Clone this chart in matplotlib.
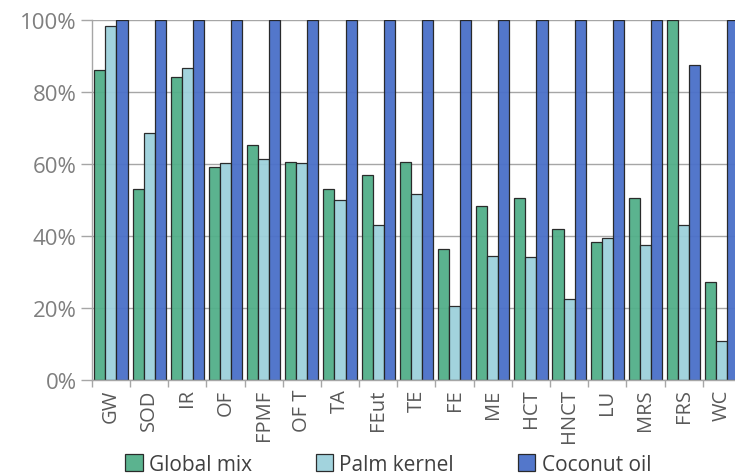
import numpy as np
import matplotlib
matplotlib.use("Agg")
import matplotlib.pyplot as plt
from matplotlib.ticker import PercentFormatter, FixedLocator

categories = ["GW", "SOD", "IR", "OF", "FPMF", "OF T", "TA", "FEut", "TE", "FE",
              "ME", "HCT", "HNCT", "LU", "MRS", "FRS", "WC"]
global_mix = [86.1, 53.0, 84.2, 59.2, 65.2, 60.5, 53.0, 57.0, 60.5, 36.5,
              48.4, 50.5, 42.1, 38.3, 50.5, 100.0, 27.2]
palm_kernel = [98.3, 68.5, 86.6, 60.3, 61.5, 60.3, 50.0, 43.1, 51.8, 20.6,
               34.5, 34.1, 22.4, 39.5, 37.5, 43.2, 10.8]
coconut_oil = [100, 100, 100, 100, 100, 100, 100, 100, 100, 100,
               100, 100, 100, 100, 100, 87.4, 100]
series_names = ["Global mix", "Palm kernel", "Coconut oil"]
colors = ["#52AF89", "#9DD1DC", "#4A70C9"]

plt.rcParams['font.family'] = ['Open Sans', 'DejaVu Sans']

fig = plt.figure(figsize=(7.35, 4.77), dpi=100)
# the axis runs slightly past the right edge, like in the source picture
ax = fig.add_axes([0.125, 0.201, 0.883, 0.755])

x = np.arange(len(categories))
w = 0.29
for i, (vals, name, c) in enumerate(zip([global_mix, palm_kernel, coconut_oil], series_names, colors)):
    ax.bar(x + (i - 1) * w, vals, width=w, color=c, edgecolor="#222222",
           linewidth=0.9, alpha=0.95, label=name, zorder=2)

ax.set_xlim(-0.5, len(categories) - 0.5)
ax.set_ylim(0, 100)
ax.yaxis.set_major_locator(FixedLocator([0, 20, 40, 60, 80, 100]))
ax.yaxis.set_major_formatter(PercentFormatter(decimals=0))
ax.grid(axis="y", color="#A6A6A6", linewidth=1.0, zorder=0)
ax.set_axisbelow(True)

ax.set_xticks(x)
ax.set_xticklabels(categories, rotation=90, color="#595959", fontsize=14.5)
ax.set_xticks(np.arange(-0.5, len(categories)), minor=True)
ax.tick_params(axis="x", which="major", length=0, pad=6)
ax.tick_params(axis="x", which="minor", length=5, color="#A6A6A6", width=1)
ax.tick_params(axis="y", length=8, color="#A6A6A6", width=1, labelcolor="#7F7F7F",
               labelsize=16, pad=3)

for s in ["top", "right"]:
    ax.spines[s].set_visible(False)
ax.spines["left"].set_color("#A6A6A6")
ax.spines["bottom"].set_color("#A6A6A6")
ax.spines["left"].set_linewidth(1)
ax.spines["bottom"].set_linewidth(1)

fig.legend(loc="center", bbox_to_anchor=(0.528, 0.025), ncol=3, frameon=False,
           fontsize=15, handlelength=0.85, handleheight=0.85, handletextpad=0.3,
           columnspacing=3.05, labelcolor="#404040", borderpad=0)

fig.savefig("out.png", dpi=100)
